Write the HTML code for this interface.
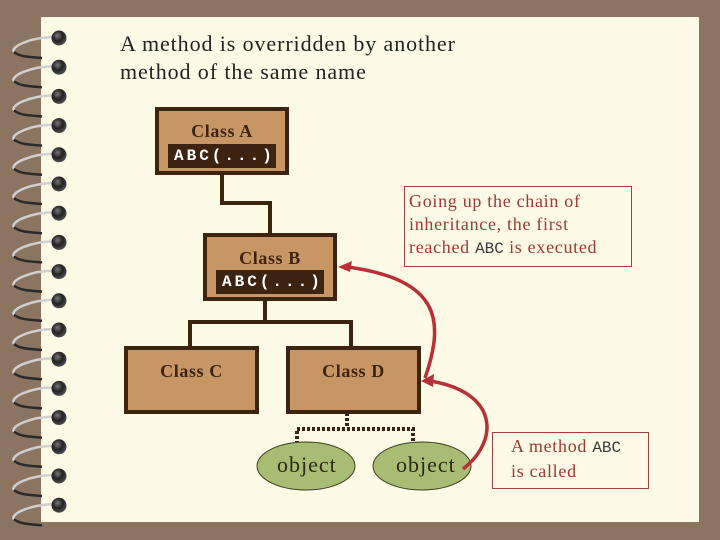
<!DOCTYPE html>
<html><head><style>
body{margin:0;width:720px;height:540px;background:#8B7560;overflow:hidden;position:relative;font-family:"Liberation Serif",serif}
.paper{position:absolute;left:41px;top:17px;width:658px;height:505px;background:#FDFBE6}
.box{position:absolute;background:#C89664;border:4px solid #3d2410;box-sizing:border-box;text-align:center;font-weight:bold;color:#3d2410;font-size:18px;letter-spacing:0.6px}
.abc{position:absolute;background:#3d2410;color:#fff;font-family:"Liberation Mono",monospace;font-size:16px;font-weight:bold;line-height:24px;text-align:left;padding-left:6px;box-sizing:border-box;letter-spacing:3px}
.t{position:absolute}
.note{position:absolute;border:1px solid #A04040;color:#A03838;font-size:18px;line-height:23px;box-sizing:border-box;padding:3px 0 0 4px;letter-spacing:0.7px}
.note span{color:#3a3a3a;font-family:"Liberation Mono",monospace;font-size:16px;letter-spacing:0}
</style></head><body>
<div class="paper"></div>
<svg width="720" height="540" style="position:absolute;left:0;top:0">
<defs><radialGradient id="h" cx="0.4" cy="0.35" r="0.7"><stop offset="0" stop-color="#777"/><stop offset="0.5" stop-color="#222"/><stop offset="1" stop-color="#555"/></radialGradient></defs>
<g id="rings"></g>
<g stroke="#3d2410" stroke-width="4" fill="none">
<path d="M222,174 V203 H270 V233"/>
<path d="M265,300 V322 M190,346 V322 H351 V346"/>
</g>
<g stroke="#3d2410" stroke-width="4" fill="none" stroke-dasharray="3,2">
<path d="M347,413 V428 M297,444 V429 H413 V444"/>
</g>
<ellipse cx="306" cy="466" rx="49" ry="24" fill="#A8BC74" stroke="#3d3d20" stroke-width="1"/>
<ellipse cx="422" cy="466" rx="49" ry="24" fill="#A8BC74" stroke="#3d3d20" stroke-width="1"/>
<g stroke="#B83038" stroke-width="3.5" fill="none">
<path d="M425,378 C445,320 440,280 348,267"/>
<path d="M463,469 C500,440 498,392 430,381"/>
</g>
<polygon points="338,267 352,261 350,272" fill="#B83038"/>
<polygon points="421,381 434,374 433,387" fill="#B83038"/>
</svg>
<div class="t" style="left:120px;top:30px;font-size:22px;line-height:28px;color:#222;letter-spacing:0.9px">A method is overridden by another<br>method of the same name</div>
<div class="box" style="left:155px;top:107px;width:134px;height:68px;padding-top:10px">Class A</div>
<div class="abc" style="left:168px;top:144px;width:108px">ABC(...)</div>
<div class="box" style="left:203px;top:233px;width:134px;height:68px;padding-top:11px">Class B</div>
<div class="abc" style="left:216px;top:270px;width:108px">ABC(...)</div>
<div class="box" style="left:124px;top:346px;width:135px;height:68px;padding-top:11px">Class C</div>
<div class="box" style="left:286px;top:346px;width:135px;height:68px;padding-top:11px">Class D</div>
<div class="t" style="left:277px;top:452px;font-size:22px;color:#2a2a10;letter-spacing:1px">object</div>
<div class="t" style="left:396px;top:452px;font-size:22px;color:#2a2a10;letter-spacing:1px">object</div>
<div class="note" style="left:404px;top:186px;width:228px;height:81px">Going up the chain of<br>inheritance, the first<br>reached <span>ABC</span> is executed</div>
<div class="note" style="left:492px;top:432px;width:157px;height:57px;padding:2px 0 0 18px">A method <span>ABC</span><br>is called</div>
<script>
var g=document.getElementById('rings'),s='';
for(var i=0;i<17;i++){var y=39+i*29.2;
s+='<path d="M55,'+(y-2)+' C30,'+(y-2)+' 10,'+(y+8)+' 14,'+(y+13)+'" stroke="#d0d0d0" stroke-width="2.5" fill="none"/>';
s+='<path d="M14,'+(y+13)+' C20,'+(y+18)+' 30,'+(y+18)+' 42,'+(y+19)+'" stroke="#2a2a2a" stroke-width="2.5" fill="none"/>';
s+='<circle cx="59" cy="'+(y-1)+'" r="7.5" fill="url(#h)"/>';}
g.innerHTML=s;
</script>
</body></html>
